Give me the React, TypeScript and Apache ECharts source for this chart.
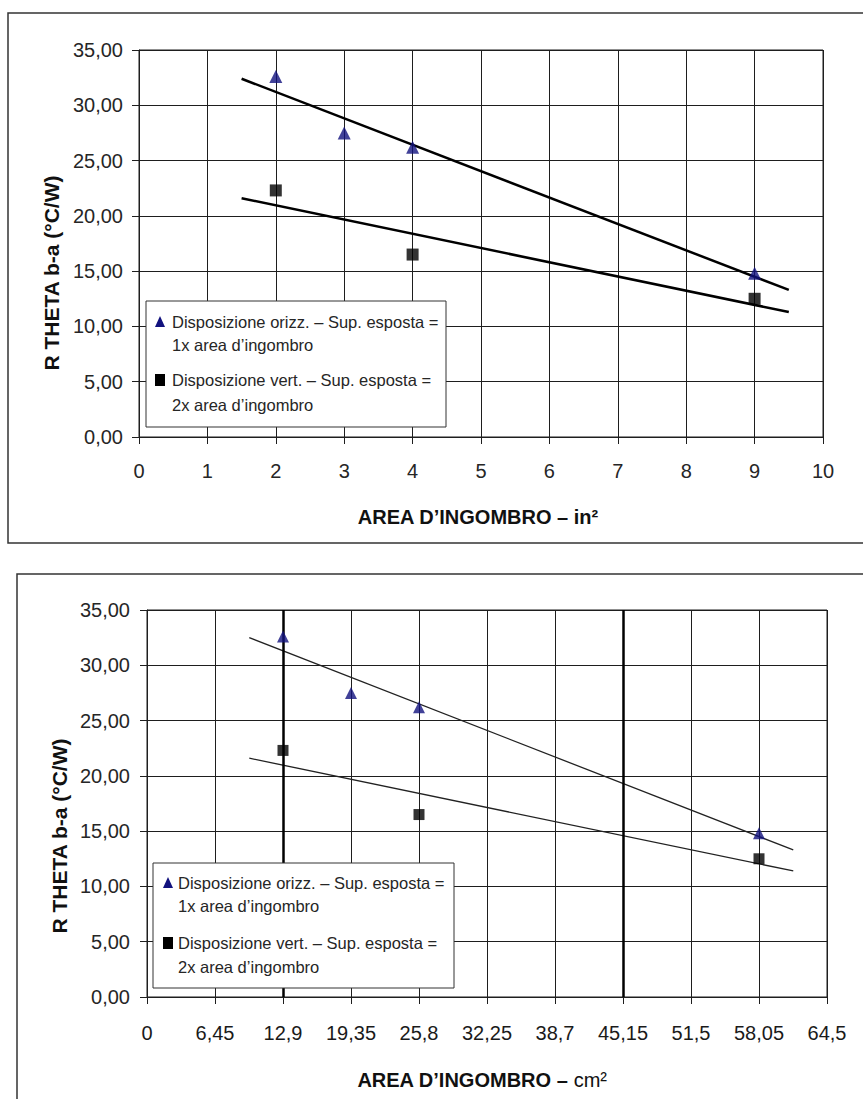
import React, { useEffect, useRef } from "react";
import * as echarts from "echarts";

// ---- data ----
const xIn = [2, 3, 4, 9];
const orizzY = [32.6, 27.5, 26.2, 14.8];
const xInVert = [2, 4, 9];
const vertY = [22.3, 16.5, 12.5];

const xCm = [12.9, 19.35, 25.8, 58.05];
const xCmVert = [12.9, 25.8, 58.05];

const trendOrizzIn = [[1.5, 32.4], [9.5, 13.3]];
const trendVertIn = [[1.5, 21.6], [9.5, 11.3]];
const trendOrizzCm = [[9.7, 32.5], [61.3, 13.3]];
const trendVertCm = [[9.7, 21.6], [61.3, 11.4]];

const thickLinesCm = [12.9, 45.15];

const yTickLabels = ["0,00", "5,00", "10,00", "15,00", "20,00", "25,00", "30,00", "35,00"];
const xTickLabelsIn = ["0", "1", "2", "3", "4", "5", "6", "7", "8", "9", "10"];
const xTickLabelsCm = ["0", "6,45", "12,9", "19,35", "25,8", "32,25", "38,7", "45,15", "51,5", "58,05", "64,5"];

const legendOrizz = ["Disposizione orizz. – Sup. esposta =", "1x area d’ingombro"];
const legendVert = ["Disposizione vert. – Sup. esposta =", "2x area d’ingombro"];
const yTitle = "R THETA b-a (°C/W)";

const FONT = "'Liberation Sans', Arial, sans-serif";
const NAVY = "#12127e";
const INK = "#1e1e1e";

function pair(xs: number[], ys: number[]) {
  return xs.map((x, i) => [x, ys[i]]);
}

function yAxis(gridIndex: number, margin: number) {
  return {
    type: "value",
    gridIndex,
    min: 0,
    max: 35,
    interval: 5,
    axisLine: { show: true, lineStyle: { color: INK, width: 1 } },
    axisTick: { show: true, length: 7, lineStyle: { color: INK, width: 1 } },
    axisLabel: {
      color: "#262626",
      fontSize: 20,
      fontFamily: FONT,
      margin,
      formatter: (v: number) => yTickLabels[Math.round(v / 5)],
    },
    splitLine: { show: true, lineStyle: { color: INK, width: 1 } },
  };
}

export default function App() {
  const ref = useRef<HTMLDivElement>(null);
  useEffect(() => {
    const chart = echarts.init(ref.current!, undefined, { renderer: "svg" });

    const legendBlock = (
      bx: number, by: number, bw: number, bh: number,
      mx: number, tx: number, lines: number[], fs: number
    ) => [
      {
        type: "rect",
        shape: { x: bx, y: by, width: bw, height: bh },
        style: { fill: "#fff", stroke: "#333", lineWidth: 1 },
        z: 100,
      },
      {
        type: "polygon",
        shape: { points: [[mx, lines[0] - 6], [mx - 5, lines[0] + 5], [mx + 5, lines[0] + 5]] },
        style: { fill: NAVY },
        z: 101,
      },
      {
        type: "rect",
        shape: { x: mx - 5, y: lines[2] - 6, width: 10, height: 12 },
        style: { fill: "#000" },
        z: 101,
      },
      ...[legendOrizz[0], legendOrizz[1], legendVert[0], legendVert[1]].map((t, i) => ({
        type: "text",
        x: tx,
        y: lines[i],
        z: 101,
        style: {
          text: t,
          fill: "#262626",
          fontSize: fs,
          fontFamily: FONT,
          textAlign: "left",
          textVerticalAlign: "middle",
        },
      })),
    ];

    const yTitleEl = (x: number, y: number) => ({
      type: "text",
      x,
      y,
      rotation: Math.PI / 2,
      style: {
        text: yTitle,
        fill: "#111",
        fontSize: 21,
        fontWeight: "bold",
        fontFamily: FONT,
        textAlign: "center",
        textVerticalAlign: "middle",
      },
    });

    chart.setOption({
      animation: false,
      textStyle: { fontFamily: FONT },
      grid: [
        { left: 139, top: 50, width: 684, height: 387, show: true, borderColor: INK, borderWidth: 1 },
        { left: 147, top: 610, width: 680, height: 387, show: true, borderColor: INK, borderWidth: 1 },
      ],
      xAxis: [
        {
          type: "value",
          gridIndex: 0,
          min: 0,
          max: 10,
          interval: 1,
          axisLine: { show: true, onZero: false, lineStyle: { color: INK, width: 1 } },
          axisTick: { show: true, length: 7, lineStyle: { color: INK } },
          axisLabel: {
            color: "#262626",
            fontSize: 20,
            fontFamily: FONT,
            margin: 24,
            formatter: (v: number) => xTickLabelsIn[Math.round(v)],
          },
          splitLine: { show: true, lineStyle: { color: INK, width: 1 } },
        },
        {
          type: "value",
          gridIndex: 1,
          min: 0,
          max: 64.5,
          interval: 6.45,
          axisLine: { show: true, onZero: false, lineStyle: { color: INK, width: 1 } },
          axisTick: { show: true, length: 7, lineStyle: { color: INK } },
          axisLabel: {
            color: "#1a1a1a",
            fontSize: 20,
            fontFamily: FONT,
            margin: 26,
            formatter: (v: number) => xTickLabelsCm[Math.round(v / 6.45)],
          },
          splitLine: { show: true, lineStyle: { color: INK, width: 1 } },
        },
      ],
      yAxis: [yAxis(0, 16), yAxis(1, 17)],
      series: [
        {
          type: "line",
          xAxisIndex: 0,
          yAxisIndex: 0,
          data: trendOrizzIn,
          showSymbol: false,
          lineStyle: { color: "#000", width: 2.5 },
          z: 3,
        },
        {
          type: "line",
          xAxisIndex: 0,
          yAxisIndex: 0,
          data: trendVertIn,
          showSymbol: false,
          lineStyle: { color: "#000", width: 2.5 },
          z: 3,
        },
        {
          type: "scatter",
          xAxisIndex: 0,
          yAxisIndex: 0,
          data: pair(xIn, orizzY),
          symbol: "triangle",
          symbolSize: [13, 13],
          itemStyle: { color: NAVY },
          z: 5,
        },
        {
          type: "scatter",
          xAxisIndex: 0,
          yAxisIndex: 0,
          data: pair(xInVert, vertY),
          symbol: "rect",
          symbolSize: 12,
          itemStyle: { color: "#000" },
          z: 5,
        },
        {
          type: "line",
          xAxisIndex: 1,
          yAxisIndex: 1,
          data: trendOrizzCm,
          showSymbol: false,
          lineStyle: { color: "#222", width: 1.3 },
          z: 3,
          markLine: {
            silent: true,
            symbol: "none",
            label: { show: false },
            lineStyle: { color: "#000", width: 2.5, type: "solid" },
            data: thickLinesCm.map((v) => ({ xAxis: v })),
          },
        },
        {
          type: "line",
          xAxisIndex: 1,
          yAxisIndex: 1,
          data: trendVertCm,
          showSymbol: false,
          lineStyle: { color: "#222", width: 1.3 },
          z: 3,
        },
        {
          type: "scatter",
          xAxisIndex: 1,
          yAxisIndex: 1,
          data: pair(xCm, orizzY),
          symbol: "triangle",
          symbolSize: [12, 12],
          itemStyle: { color: NAVY },
          z: 5,
        },
        {
          type: "scatter",
          xAxisIndex: 1,
          yAxisIndex: 1,
          data: pair(xCmVert, vertY),
          symbol: "rect",
          symbolSize: 11,
          itemStyle: { color: "#000" },
          z: 5,
        },
      ],
      graphic: [
        // outer frames
        {
          type: "rect",
          shape: { x: 8, y: 13, width: 870, height: 530 },
          style: { fill: "none", stroke: "#333", lineWidth: 1.5 },
          z: -1,
        },
        {
          type: "rect",
          shape: { x: 17, y: 574, width: 870, height: 540 },
          style: { fill: "none", stroke: "#333", lineWidth: 1.5 },
          z: -1,
        },
        yTitleEl(51, 273),
        yTitleEl(59, 836),
        // x titles
        {
          type: "text",
          x: 478,
          y: 517,
          style: {
            text: "AREA D’INGOMBRO – in²",
            fill: "#111",
            fontSize: 20,
            fontWeight: "bold",
            fontFamily: FONT,
            textAlign: "center",
            textVerticalAlign: "middle",
          },
        },
        {
          type: "text",
          x: 482,
          y: 1080,
          style: {
            text: "{b|AREA D’INGOMBRO – }{r|cm²}",
            fill: "#111",
            fontFamily: FONT,
            textAlign: "center",
            textVerticalAlign: "middle",
            rich: {
              b: { fontSize: 20, fontWeight: "bold", fontFamily: FONT, fill: "#111" },
              r: { fontSize: 20, fontFamily: FONT, fill: "#111" },
            },
          },
        },
        ...legendBlock(146, 301, 300, 126, 160, 172, [322, 345, 380, 405], 16.5),
        ...legendBlock(153, 863, 301, 125, 168, 178, [883, 906, 943, 967], 16.5),
      ],
    });
    return () => chart.dispose();
  }, []);
  return (
    <div
      ref={ref}
      style={{ position: "fixed", left: 0, top: 0, width: 863, height: 1099, background: "#fff" }}
    />
  );
}
